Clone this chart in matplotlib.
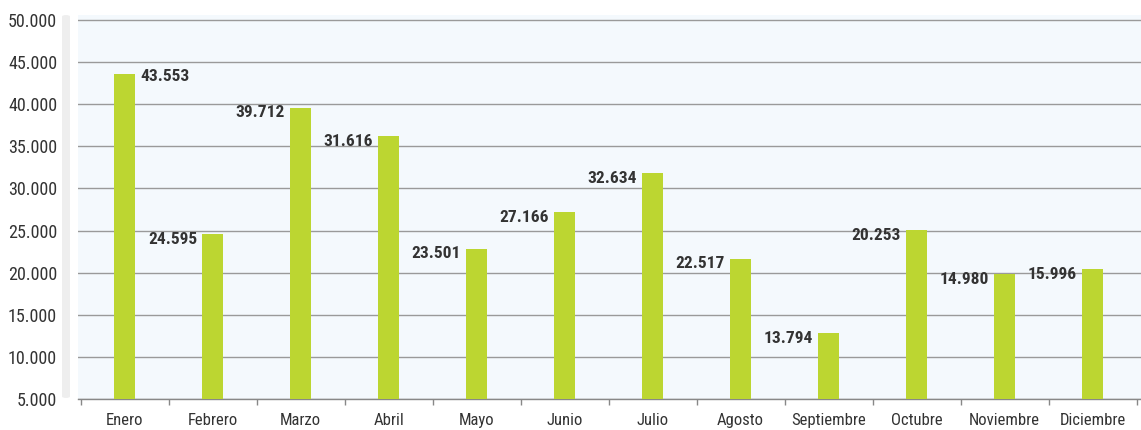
import matplotlib
matplotlib.use("Agg")
import matplotlib.pyplot as plt
from matplotlib.patches import FancyBboxPatch
from matplotlib import font_manager

months = ["Enero", "Febrero", "Marzo", "Abril", "Mayo", "Junio", "Julio",
          "Agosto", "Septiembre", "Octubre", "Noviembre", "Diciembre"]
bar_values = [43600, 24560, 39600, 36230, 22860, 27200, 31790,
              21670, 12820, 25030, 19840, 20430]
label_texts = ["43.553", "24.595", "39.712", "31.616", "23.501", "27.166", "32.634",
               "22.517", "13.794", "20.253", "14.980", "15.996"]
yticks = [5000, 10000, 15000, 20000, 25000, 30000, 35000, 40000, 45000, 50000]
ytick_labels = ["5.000", "10.000", "15.000", "20.000", "25.000", "30.000",
                "35.000", "40.000", "45.000", "50.000"]

names = {f.name for f in font_manager.fontManager.ttflist}
fam = [n for n in ["Roboto Condensed", "Liberation Sans Narrow", "DejaVu Sans"] if n in names] + ["DejaVu Sans"]
plt.rcParams["font.family"] = fam

W, H = 1141, 430
fig = plt.figure(figsize=(W / 100, H / 100), dpi=100)
fig.patch.set_facecolor("white")

# grey strip beside the y axis
strip = FancyBboxPatch((62 / W, 1 - 398 / H), 8 / W, (398 - 15) / H,
                       boxstyle="round,pad=0,rounding_size=0.004",
                       transform=fig.transFigure, facecolor="#eeeeee",
                       edgecolor="none", zorder=0)
fig.patches.append(strip)

ax = fig.add_axes([78 / W, 1 - 399 / H, (1141 - 78) / W, (399 - 15) / H])
ax.set_facecolor("#f4f9fd")

x = list(range(len(months)))
ax.bar(x, bar_values, width=0.24, color="#bcd631", zorder=3)

ax.set_ylim(5000, 50600)
ax.set_xlim(-0.53, 11.55)
ax.set_yticks(yticks)
ax.set_yticklabels(ytick_labels)
ax.yaxis.grid(True, color="#9a9a9a", linewidth=1.0, zorder=1)
ax.tick_params(axis="y", length=0, pad=15, labelsize=13, labelcolor="#333333")

ax.set_xticks(x)
ax.set_xticklabels(months)
ax.set_xticks([i - 0.5 for i in range(len(months) + 1)], minor=True)
ax.tick_params(axis="x", which="major", length=0, pad=10, labelsize=12, labelcolor="#333333")
ax.tick_params(axis="x", which="minor", length=4, width=1, color="#888888")

for s in ["top", "right", "left"]:
    ax.spines[s].set_visible(False)
ax.spines["bottom"].set_color("#888888")
ax.spines["bottom"].set_linewidth(1)

for i, (v, t) in enumerate(zip(bar_values, label_texts)):
    if i == 0:
        ax.annotate(t, (i + 0.12, v), xytext=(5, -3), textcoords="offset pixels",
                    ha="left", va="center", fontsize=12.5, fontweight="semibold",
                    color="#333333", zorder=4)
    else:
        ax.annotate(t, (i - 0.12, v), xytext=(-5, -5), textcoords="offset pixels",
                    ha="right", va="center", fontsize=12.5, fontweight="semibold",
                    color="#333333", zorder=4)

fig.savefig("out.png", dpi=100)
